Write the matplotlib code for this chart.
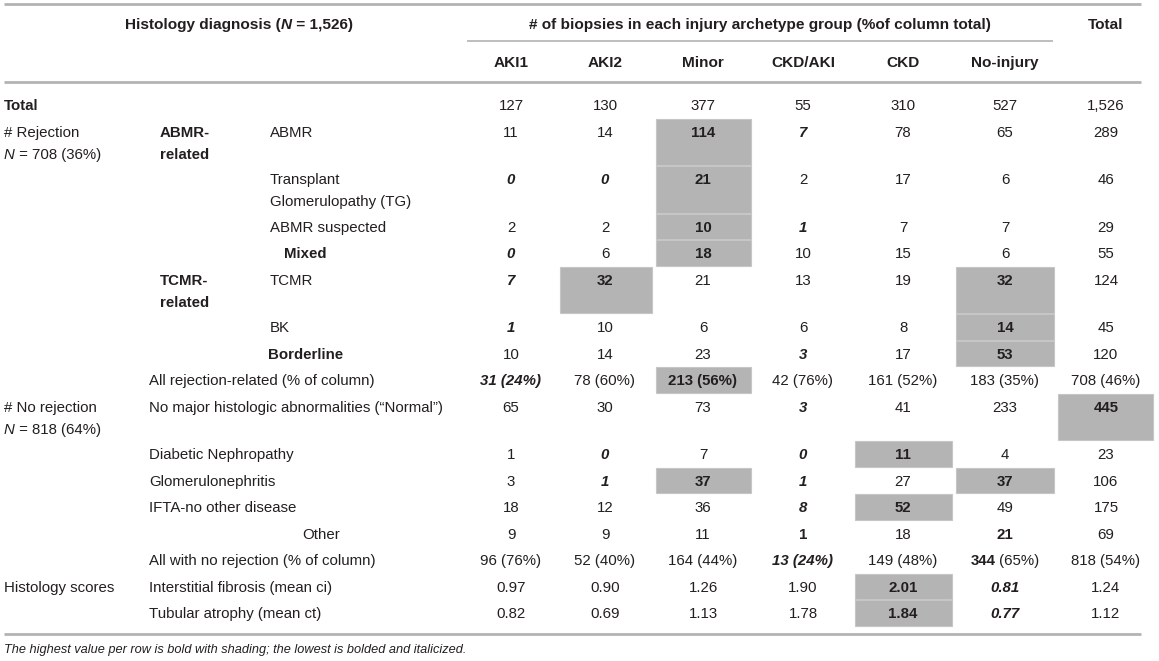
import matplotlib
matplotlib.use("Agg")
import matplotlib.pyplot as plt
from matplotlib.patches import Rectangle

plt.rcParams['font.family'] = ['Liberation Sans', 'DejaVu Sans']

# ---------------- data ----------------
groups = ["AKI1", "AKI2", "Minor", "CKD/AKI", "CKD", "No-injury"]
total_label = "Total"

total_n = [127, 130, 377, 55, 310, 527, 1526]
abmr = [11, 14, 114, 7, 78, 65, 289]
tg = [0, 0, 21, 2, 17, 6, 46]
abmr_susp = [2, 2, 10, 1, 7, 7, 29]
mixed = [0, 6, 18, 10, 15, 6, 55]
tcmr = [7, 32, 21, 13, 19, 32, 124]
bk = [1, 10, 6, 6, 8, 14, 45]
borderline = [10, 14, 23, 3, 17, 53, 120]
all_rej_n = [31, 78, 213, 42, 161, 183, 708]
all_rej_pct = [24, 60, 56, 76, 52, 35, 46]
normal = [65, 30, 73, 3, 41, 233, 445]
diabetic = [1, 0, 7, 0, 11, 4, 23]
gn = [3, 1, 37, 1, 27, 37, 106]
ifta = [18, 12, 36, 8, 52, 49, 175]
other = [9, 9, 11, 1, 18, 21, 69]
all_norej_n = [96, 52, 164, 13, 149, 344, 818]
all_norej_pct = [76, 40, 44, 24, 48, 65, 54]
ci_mean = [0.97, 0.90, 1.26, 1.90, 2.01, 0.81, 1.24]
ct_mean = [0.82, 0.69, 1.13, 1.78, 1.84, 0.77, 1.12]

# style codes: n normal, h highest (bold+shade), l lowest (bold italic),
# b bold, B bold count only
def cnt(v):
    return [f"{x:,}" for x in v]

def pct(n, p):
    return [f"{a} ({b}%)" for a, b in zip(n, p)]

def dec(v):
    return [f"{x:.2f}" for x in v]

rows = [
    dict(label=["Total"], lx=4, lw='bold', vals=cnt(total_n), st="nnnnnnn"),
    dict(label=["ABMR"], lx=270, vals=cnt(abmr), st="nnhlnnn", n=2,
         grp=["ABMR-", "related"], cat=[("# Rejection",), ("N", " = 708 (36%)")]),
    dict(label=["Transplant", "Glomerulopathy (TG)"], lx=270, vals=cnt(tg), st="llhnnnn"),
    dict(label=["ABMR suspected"], lx=270, vals=cnt(abmr_susp), st="nnhlnnn"),
    dict(label=["Mixed"], lx=284, lw='bold', vals=cnt(mixed), st="lnhnnnn"),
    dict(label=["TCMR"], lx=270, vals=cnt(tcmr), st="lhnnnhn", n=2, grp=["TCMR-", "related"]),
    dict(label=["BK"], lx=270, vals=cnt(bk), st="lnnnnhn"),
    dict(label=["Borderline"], lx=268, lw='bold', vals=cnt(borderline), st="nnnlnhn"),
    dict(label=["All rejection-related (% of column)"], lx=149, vals=pct(all_rej_n, all_rej_pct), st="lnhnnnn"),
    dict(label=["No major histologic abnormalities (\u201cNormal\u201d)"], lx=149, vals=cnt(normal), st="nnnlnnh",
         n=2, cat=[("# No rejection",), ("N", " = 818 (64%)")]),
    dict(label=["Diabetic Nephropathy"], lx=149, vals=cnt(diabetic), st="nlnlhnn"),
    dict(label=["Glomerulonephritis"], lx=149, vals=cnt(gn), st="nlhlnhn"),
    dict(label=["IFTA-no other disease"], lx=149, vals=cnt(ifta), st="nnnlhnn"),
    dict(label=["Other"], lx=302, vals=cnt(other), st="nnnbnbn"),
    dict(label=["All with no rejection (% of column)"], lx=149, vals=pct(all_norej_n, all_norej_pct), st="nnnlnBn"),
    dict(label=["Interstitial fibrosis (mean ci)"], lx=149, vals=dec(ci_mean), st="nnnnhln",
         cat=[("Histology scores",)]),
    dict(label=["Tubular atrophy (mean ct)"], lx=149, vals=dec(ct_mean), st="nnnnhln"),
]

# ---------------- layout ----------------
W, H = 1159, 661
FS = 10.8
FSH = 11.1
TXT = '#231f20'
SHADE = '#b4b4b4'
LINE = '#b3b3b3'
col_x = [511, 605, 703, 803, 903, 1005, 1106]
col_edges = [464, 558, 654, 753, 853, 954, 1055.5, 1155]
row_h1 = 26.5
row_hx = 21.0
line_gap = 22.0
first_top = 91.5
base_off = 5.4

fig = plt.figure(figsize=(W / 100, H / 100), dpi=100)
ax = fig.add_axes([0, 0, 1, 1])
ax.set_xlim(0, W)
ax.set_ylim(H, 0)
ax.axis('off')
renderer = fig.canvas.get_renderer()


def width(s, fontsize, fontweight, fontstyle):
    t = ax.text(0, 0, s, fontsize=fontsize, fontweight=fontweight, fontstyle=fontstyle)
    w = t.get_window_extent(renderer).width
    t.remove()
    return w


def rich(x, yc, segs, ha='left', fontsize=FS):
    """segs: list of (text, weight, style)"""
    ws = [width(s, fontsize, w, st) for s, w, st in segs]
    total = sum(ws)
    if ha == 'center':
        x0 = x - total / 2
    elif ha == 'right':
        x0 = x - total
    else:
        x0 = x
    for (s, w, st), wd in zip(segs, ws):
        ax.text(x0, yc + base_off * fontsize / FS, s, fontsize=fontsize, fontweight=w, fontstyle=st,
                color=TXT, ha='left', va='baseline')
        x0 += wd


# rules
ax.plot([4, 1141], [4, 4], color=LINE, lw=2.0, solid_capstyle='butt')
ax.plot([467, 1053], [41, 41], color=LINE, lw=1.2, solid_capstyle='butt')
ax.plot([4, 1141], [82, 82], color=LINE, lw=2.0, solid_capstyle='butt')
ax.plot([4, 1141], [634, 634], color=LINE, lw=2.0, solid_capstyle='butt')

# headers
rich(239, 23, [("Histology diagnosis (", 'bold', 'normal'), ("N", 'bold', 'italic'),
               (" = 1,526)", 'bold', 'normal')], ha='center', fontsize=FSH)
rich(760, 23, [("# of biopsies in each injury archetype group (%of column total)", 'bold', 'normal')],
     ha='center', fontsize=FSH)
rich(col_x[6], 23, [(total_label, 'bold', 'normal')], ha='center', fontsize=FSH)
for cx, g in zip(col_x, groups):
    rich(cx, 61, [(g, 'bold', 'normal')], ha='center', fontsize=FSH)

# body
top = first_top
for r in rows:
    nl = r.get('n', len(r['label']))
    h = row_h1 + row_hx * (nl - 1)
    yc0 = top + row_h1 / 2
    # shading
    for j, s in enumerate(r['st']):
        if s == 'h':
            ax.add_patch(Rectangle((col_edges[j] + 2, top + 0.5), col_edges[j + 1] - col_edges[j] - 4, h - 1,
                                   facecolor=SHADE, edgecolor='#c6c6c6', lw=0.8, zorder=0))
    # labels
    for k, lab in enumerate(r['label']):
        rich(r['lx'], yc0 + k * line_gap, [(lab, r.get('lw', 'normal'), 'normal')])
    if 'grp' in r:
        for k, lab in enumerate(r['grp']):
            rich(160, yc0 + k * line_gap, [(lab, 'bold', 'normal')])
    if 'cat' in r:
        for k, parts in enumerate(r['cat']):
            if len(parts) == 1:
                rich(4, yc0 + k * line_gap, [(parts[0], 'normal', 'normal')])
            else:
                rich(4, yc0 + k * line_gap, [(parts[0], 'normal', 'italic'), (parts[1], 'normal', 'normal')])
    # values
    for j, (v, s) in enumerate(zip(r['vals'], r['st'])):
        if s == 'n':
            segs = [(v, 'normal', 'normal')]
        elif s in ('h', 'b'):
            segs = [(v, 'bold', 'normal')]
        elif s == 'l':
            segs = [(v, 'bold', 'italic')]
        else:  # 'B' bold count only
            a, b = v.split(' ', 1)
            segs = [(a, 'bold', 'normal'), (' ' + b, 'normal', 'normal')]
        rich(col_x[j], yc0, segs, ha='center')
    top += h

# footnote
rich(4, 648, [("The highest value per row is bold with shading; the lowest is bolded and italicized.",
               'normal', 'italic')], fontsize=9.2)

fig.savefig('out.png', dpi=100)
